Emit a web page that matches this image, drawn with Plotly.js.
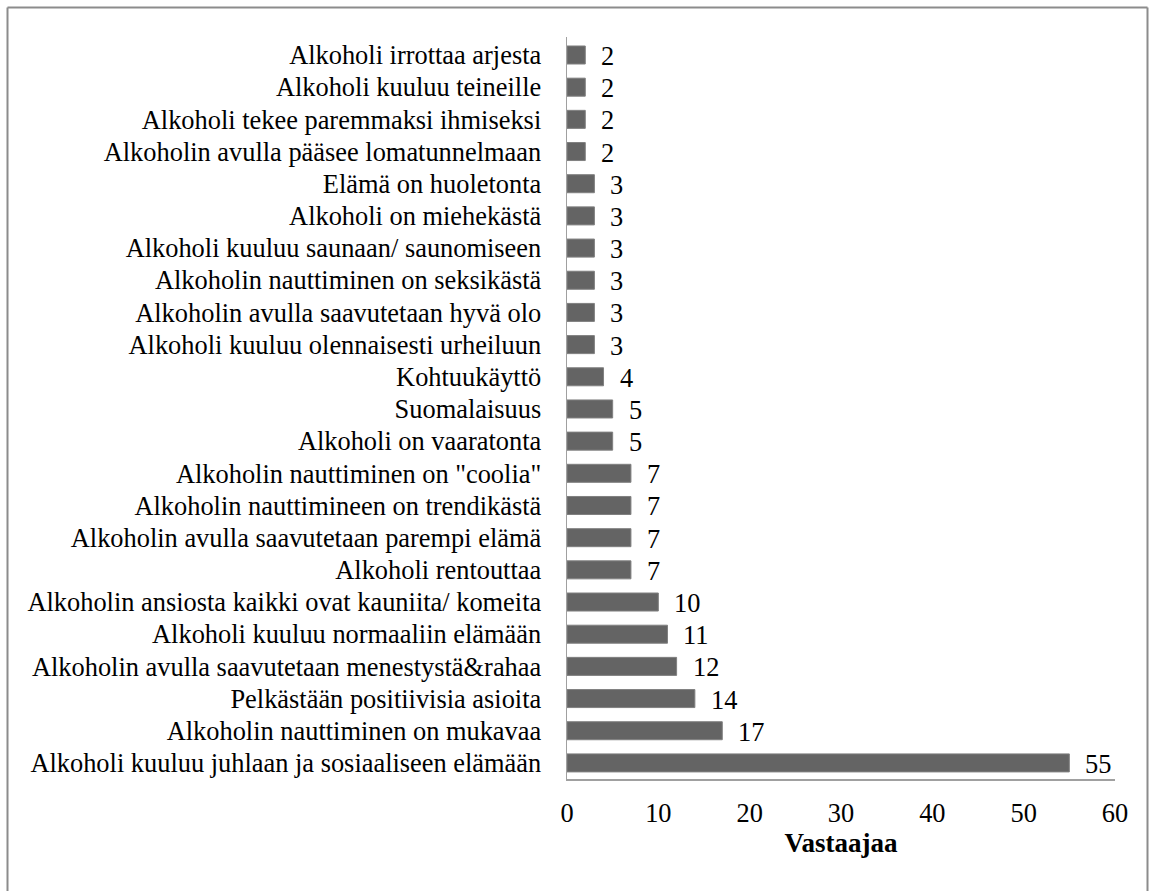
<!DOCTYPE html>
<html>
<head>
<meta charset="utf-8">
<script src="https://cdn.plot.ly/plotly-3.0.1.min.js"></script>
<style>html,body{margin:0;padding:0;background:#fff;}#chart{width:1149px;height:891px;}</style>
</head>
<body>
<div id="chart"></div>
<script>
// Categories listed top-to-bottom as they appear in the chart
const categories = [
  "Alkoholi irrottaa arjesta",
  "Alkoholi kuuluu teineille",
  "Alkoholi tekee paremmaksi ihmiseksi",
  "Alkoholin avulla pääsee lomatunnelmaan",
  "Elämä on huoletonta",
  "Alkoholi on miehekästä",
  "Alkoholi kuuluu saunaan/ saunomiseen",
  "Alkoholin nauttiminen on seksikästä",
  "Alkoholin avulla saavutetaan hyvä olo",
  "Alkoholi kuuluu olennaisesti urheiluun",
  "Kohtuukäyttö",
  "Suomalaisuus",
  "Alkoholi on vaaratonta",
  "Alkoholin nauttiminen on \"coolia\"",
  "Alkoholin nauttimineen on trendikästä",
  "Alkoholin avulla saavutetaan parempi elämä",
  "Alkoholi rentouttaa",
  "Alkoholin ansiosta kaikki ovat kauniita/ komeita",
  "Alkoholi kuuluu normaaliin elämään",
  "Alkoholin avulla saavutetaan menestystä&rahaa",
  "Pelkästään positiivisia asioita",
  "Alkoholin nauttiminen on mukavaa",
  "Alkoholi kuuluu juhlaan ja sosiaaliseen elämään"
];
const values = [2, 2, 2, 2, 3, 3, 3, 3, 3, 3, 4, 5, 5, 7, 7, 7, 7, 10, 11, 12, 14, 17, 55];
const xTickValues = [0, 10, 20, 30, 40, 50, 60];
const xAxisTitle = "Vastaajaa";

const W = 1149, H = 891;
const ML = 567, MR = 34, MT = 37, MB = 112;
const plotW = W - ML - MR, plotH = H - MT - MB;
const px = v => (v - ML) / plotW;           // pixel x -> paper x
const py = v => (H - MB - v) / plotH;        // pixel y -> paper y

const FONT = "'Liberation Serif', 'Times New Roman', serif";
const FS = 26.4;
const frameColor = "#8c8c8c";

const trace = {
  type: "bar",
  orientation: "h",
  x: values,
  y: categories,
  marker: { color: "#646464", line: { color: "#808080", width: 1 } },
  hoverinfo: "x+y"
};

const annotations = values.map((v, i) => ({
  x: v, y: categories[i], xref: "x", yref: "y",
  text: String(v), showarrow: false,
  xanchor: "left", yanchor: "middle", xshift: 14, yshift: -1,
  font: { family: FONT, size: FS, color: "#000" }
}));

const layout = {
  width: W, height: H,
  margin: { l: ML, r: MR, t: MT, b: MB, pad: 0 },
  paper_bgcolor: "#fff", plot_bgcolor: "#fff",
  showlegend: false,
  bargap: 0.44,
  font: { family: FONT, size: FS, color: "#000" },
  xaxis: {
    range: [0, 60], tickvals: xTickValues, ticks: "", showgrid: false, zeroline: false,
    showline: true, linecolor: "#a0a0a0", linewidth: 1.5,
    tickfont: { family: FONT, size: FS, color: "#000" },
    ticklabelstandoff: 10,
    automargin: false,
    title: { text: xAxisTitle, font: { family: FONT, size: 27, color: "#000", weight: "bold" }, standoff: 4 }
  },
  yaxis: {
    type: "category", autorange: "reversed", ticks: "", showgrid: false, zeroline: false,
    showline: true, linecolor: "#a0a0a0", linewidth: 1.5,
    tickfont: { family: FONT, size: FS, color: "#000" },
    ticklabelstandoff: 19,
    automargin: false
  },
  annotations: annotations,
  shapes: [
    { type: "line", xref: "paper", yref: "paper", x0: px(7.5), x1: px(7.5), y0: py(7.5), y1: py(H + 5), line: { color: frameColor, width: 2 } },
    { type: "line", xref: "paper", yref: "paper", x0: px(7.5), x1: px(1147.5), y0: py(7.5), y1: py(7.5), line: { color: frameColor, width: 2 } },
    { type: "line", xref: "paper", yref: "paper", x0: px(1147.5), x1: px(1147.5), y0: py(7.5), y1: py(H + 5), line: { color: frameColor, width: 2 } }
  ]
};

Plotly.newPlot("chart", [trace], layout, { displayModeBar: false, staticPlot: true });
</script>
</body>
</html>
